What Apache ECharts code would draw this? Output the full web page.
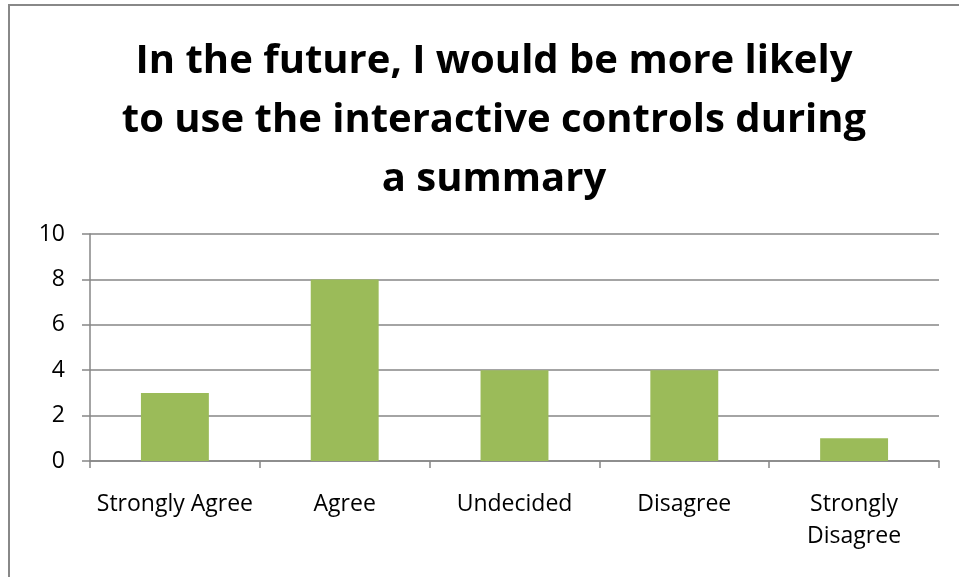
<!DOCTYPE html>
<html><head><meta charset="utf-8">
<script src="https://cdn.jsdelivr.net/npm/echarts@6/dist/echarts.min.js"></script>
<style>html,body{margin:0;padding:0;background:#fff}#c{width:959px;height:577px}</style>
</head><body><div id="c"></div>
<script>
const titleText = 'In the future, I would be more likely\nto use the interactive controls during\na summary';
const categories = ['Strongly Agree', 'Agree', 'Undecided', 'Disagree', 'Strongly Disagree'];
const values = [3, 8, 4, 4, 1];
const yTicks = {min: 0, max: 10, interval: 2};
const FONT = 'Open Sans';
const chart = echarts.init(document.getElementById('c'), null, {renderer: 'canvas'});
chart.setOption({
  animation: false,
  backgroundColor: '#fff',
  graphic: [{type: 'rect', shape: {x: 9, y: 5, width: 960, height: 590}, style: {fill: 'none', stroke: '#888', lineWidth: 2}, silent: true}],
  title: {
    text: titleText, left: 489, top: 27, textAlign: 'center',
    textStyle: {fontFamily: FONT, fontSize: 40, fontWeight: 'bold', color: '#000', lineHeight: 59}
  },
  grid: {left: 90, right: 20, top: 234, bottom: 116},
  xAxis: {
    type: 'category', data: categories,
    axisLine: {lineStyle: {color: '#868686', width: 1.5}},
    axisTick: {show: true, length: 7, lineStyle: {color: '#868686', width: 1.5}},
    axisLabel: {interval: 0, margin: 27, fontFamily: FONT, fontSize: 23, color: '#000', lineHeight: 32,
      formatter: v => v === 'Strongly Disagree' ? 'Strongly\nDisagree' : v}
  },
  yAxis: {
    type: 'value', min: yTicks.min, max: yTicks.max, interval: yTicks.interval,
    axisLine: {show: true, lineStyle: {color: '#868686', width: 1.5}},
    axisTick: {show: true, length: 8, lineStyle: {color: '#868686', width: 1.5}},
    splitLine: {lineStyle: {color: '#868686', width: 1.5}},
    axisLabel: {margin: 25, fontFamily: FONT, fontSize: 23, color: '#000'}
  },
  series: [{type: 'bar', data: values, barWidth: '40%', itemStyle: {color: '#9BBB59'}}]
});
</script></body></html>
